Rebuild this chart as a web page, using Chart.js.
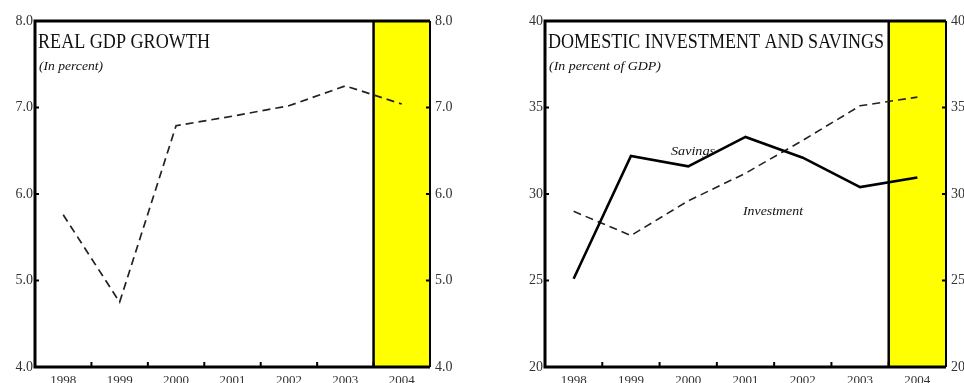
<!DOCTYPE html>
<html>
<head>
<meta charset="utf-8">
<script src="https://cdn.jsdelivr.net/npm/chart.js@4.4.1/dist/chart.umd.min.js"></script>
<style>
  body { margin: 0; background: #fff; }
  #wrap { position: relative; width: 964px; height: 383px; overflow: hidden; }
  canvas { position: absolute; top: 0; }
  #gdpChart { left: 0; }
  #savChart { left: 480px; }
</style>
</head>
<body>
<div id="wrap">
  <canvas id="gdpChart" width="480" height="383"></canvas>
  <canvas id="savChart" width="484" height="383"></canvas>
</div>
<script>
const years = ["1998", "1999", "2000", "2001", "2002", "2003", "2004"];
const gdpGrowth = [5.76, 4.75, 6.79, 6.90, 7.02, 7.25, 7.04];
const savings = [25.1, 32.2, 31.6, 33.3, 32.1, 30.4, 30.95];
const investment = [29.0, 27.6, 29.6, 31.2, 33.1, 35.1, 35.6];
const gdpTicks = [4, 5, 6, 7, 8];
const savTicks = [20, 25, 30, 35, 40];

const SERIF = "'Liberation Serif', 'Times New Roman', serif";

// draw text squeezed to a given width (the reference titles are condensed)
function fitText(ctx, text, x, y, width) {
  const w = ctx.measureText(text).width;
  ctx.save();
  ctx.translate(x, y);
  ctx.scale(width / w, 1);
  ctx.fillText(text, 0, 0);
  ctx.restore();
}

function panelPlugin(opts) {
  return {
    id: "panel",
    beforeDatasetsDraw(chart) {
      const ctx = chart.ctx;
      const a = chart.chartArea;
      const x = chart.scales.x;
      // projection year band
      const bandLeft = (x.getPixelForValue(5) + x.getPixelForValue(6)) / 2;
      ctx.save();
      ctx.fillStyle = "#ffff00";
      ctx.fillRect(bandLeft, a.top, a.right - bandLeft, a.bottom - a.top);
      ctx.strokeStyle = "#000";
      ctx.lineWidth = 2.5;
      ctx.beginPath();
      ctx.moveTo(bandLeft, a.top);
      ctx.lineTo(bandLeft, a.bottom);
      ctx.stroke();
      ctx.restore();
    },
    afterDatasetsDraw(chart) {
      const ctx = chart.ctx;
      const a = chart.chartArea;
      const x = chart.scales.x;
      const y = chart.scales.y;
      ctx.save();
      ctx.strokeStyle = "#000";
      // frame
      ctx.lineWidth = 3;
      ctx.beginPath();
      ctx.moveTo(a.right, a.top);
      ctx.lineTo(a.left, a.top);
      ctx.lineTo(a.left, a.bottom);
      ctx.lineTo(a.right, a.bottom);
      ctx.stroke();
      ctx.lineWidth = 2;
      ctx.beginPath();
      ctx.moveTo(a.right, a.top);
      ctx.lineTo(a.right, a.bottom);
      ctx.stroke();
      // inward ticks
      ctx.lineWidth = 2;
      ctx.beginPath();
      opts.ticks.forEach(v => {
        const py = y.getPixelForValue(v);
        ctx.moveTo(a.left, py); ctx.lineTo(a.left + 4, py);
        ctx.moveTo(a.right, py); ctx.lineTo(a.right - 4, py);
      });
      for (let i = 0; i < years.length - 1; i++) {
        const px = (x.getPixelForValue(i) + x.getPixelForValue(i + 1)) / 2;
        ctx.moveTo(px, a.bottom); ctx.lineTo(px, a.bottom - 5);
      }
      ctx.stroke();
      // titles
      ctx.fillStyle = "#111";
      ctx.textBaseline = "alphabetic";
      ctx.font = "22px " + SERIF;
      fitText(ctx, opts.title, a.left + 3, 48, opts.titleWidth);
      ctx.font = "italic 12px " + SERIF;
      fitText(ctx, opts.subtitle, a.left + 4, 70, opts.subWidth);
      (opts.notes || []).forEach(n => {
        ctx.font = "italic 13px " + SERIF;
        fitText(ctx, n.text, n.x, n.y, n.w);
      });
      ctx.restore();
    }
  };
}

function makeOptions(min, max, step, leftW, rightW, fmt) {
  const tickFont = { family: SERIF, size: 14 };
  return {
    responsive: false,
    animation: false,
    devicePixelRatio: 1,
    layout: { padding: { top: 21, left: 0, right: 0, bottom: 0 } },
    plugins: { legend: { display: false }, tooltip: { enabled: false } },
    elements: { point: { radius: 0 }, line: { tension: 0 } },
    scales: {
      x: {
        type: "category",
        offset: true,
        grid: { display: false, drawTicks: false },
        border: { display: false },
        ticks: { color: "#333", font: { family: SERIF, size: 13 }, padding: 6, maxRotation: 0, autoSkip: false },
        afterFit(s) { s.height = 16; }
      },
      y: {
        position: "left",
        min: min, max: max,
        grid: { display: false, drawTicks: false },
        border: { display: false },
        ticks: { stepSize: step, color: "#333", font: tickFont, padding: 2, callback: fmt },
        afterFit(s) { s.width = leftW; }
      },
      y2: {
        position: "right",
        min: min, max: max,
        grid: { display: false, drawTicks: false },
        border: { display: false },
        ticks: { stepSize: step, color: "#333", font: tickFont, padding: 5, callback: fmt },
        afterFit(s) { s.width = rightW; }
      }
    }
  };
}

new Chart(document.getElementById("gdpChart"), {
  type: "line",
  data: {
    labels: years,
    datasets: [{
      data: gdpGrowth,
      borderColor: "#222",
      borderWidth: 1.7,
      borderDash: [8, 5],
      yAxisID: "y"
    }]
  },
  options: makeOptions(4, 8, 1, 35, 50, v => v.toFixed(1)),
  plugins: [panelPlugin({
    title: "REAL GDP GROWTH", titleWidth: 172,
    subtitle: "(In percent)", subWidth: 64,
    ticks: gdpTicks
  })]
});

new Chart(document.getElementById("savChart"), {
  type: "line",
  data: {
    labels: years,
    datasets: [{
      data: savings,
      borderColor: "#000",
      borderWidth: 2.6,
      yAxisID: "y"
    }, {
      data: investment,
      borderColor: "#222",
      borderWidth: 1.6,
      borderDash: [8, 5],
      yAxisID: "y"
    }]
  },
  options: makeOptions(20, 40, 5, 65, 18, v => String(v)),
  plugins: [panelPlugin({
    title: "DOMESTIC INVESTMENT AND SAVINGS", titleWidth: 336,
    subtitle: "(In percent of GDP)", subWidth: 112,
    ticks: savTicks,
    notes: [
      { text: "Savings", x: 191, y: 155, w: 44 },
      { text: "Investment", x: 263, y: 215, w: 60 }
    ]
  })]
});
</script>
</body>
</html>
